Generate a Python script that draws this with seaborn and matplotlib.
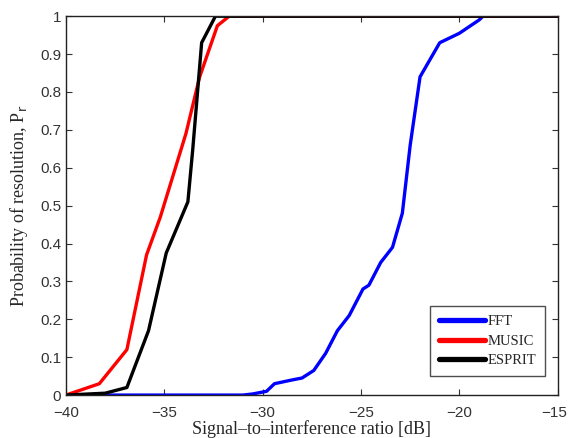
import numpy as np
import pandas as pd
import matplotlib
matplotlib.use("Agg")
import matplotlib.pyplot as plt
import matplotlib.transforms as mtransforms
import seaborn as sns

# values
fft_x = [-40, -31, -30.5, -29.8, -29.4, -28.5, -28.0, -27.4, -26.8, -26.2, -25.6, -24.9, -24.6, -24.0,
         -23.4, -22.9, -22.5, -22.0, -21.0, -20.0, -19.0, -18.8, -15]
fft_y = [0, 0, 0.003, 0.01, 0.03, 0.04, 0.045, 0.065, 0.11, 0.17, 0.21, 0.28, 0.29, 0.35,
         0.39, 0.48, 0.66, 0.84, 0.93, 0.955, 0.99, 1.0, 1.0]

music_x = [-40, -38.3, -36.9, -35.9, -35.2, -33.9, -33.2, -32.3, -31.7, -15]
music_y = [0, 0.03, 0.12, 0.37, 0.47, 0.69, 0.84, 0.975, 1.0, 1.0]

esprit_x = [-40, -38.0, -36.9, -35.8, -34.9, -33.8, -33.55, -33.1, -32.4, -15]
esprit_y = [0, 0.005, 0.02, 0.17, 0.375, 0.51, 0.65, 0.93, 1.0, 1.0]

methods = ["FFT", "MUSIC", "ESPRIT"]
colors = ["#0000ff", "#ff0000", "#000000"]

df = pd.concat([
    pd.DataFrame({"snr": fft_x, "pr": fft_y, "method": "FFT"}),
    pd.DataFrame({"snr": music_x, "pr": music_y, "method": "MUSIC"}),
    pd.DataFrame({"snr": esprit_x, "pr": esprit_y, "method": "ESPRIT"}),
])

sns.set_style("ticks")
plt.rcParams["font.family"] = ["Liberation Sans", "DejaVu Sans"]

fig = plt.figure(figsize=(5.68, 4.38), dpi=100)
ax = fig.add_axes([0.116, 0.098, 0.866, 0.865])

sns.lineplot(data=df, x="snr", y="pr", hue="method", hue_order=methods,
             palette=dict(zip(methods, colors)), linewidth=2.4, sort=False,
             estimator=None, ax=ax)

ax.set_xlim(-40, -15)
ax.set_ylim(0, 1)
ax.set_xticks(np.arange(-40, -14, 5))
ax.set_xticklabels(["\u2212%d" % abs(v) for v in np.arange(-40, -14, 5)])
ax.set_yticks(np.arange(0, 1.01, 0.1))
ax.set_yticklabels(["0", "0.1", "0.2", "0.3", "0.4", "0.5", "0.6", "0.7", "0.8", "0.9", "1"])
ax.tick_params(direction="in", top=True, right=True, labelsize=11, colors="#333333", length=4)
ax.tick_params(axis="x", pad=8)
for s in ax.spines.values():
    s.set_visible(True)
    s.set_linewidth(1.0)
    s.set_color("#222222")

# last x label sits at the figure edge, nudge it left a little
last = ax.get_xticklabels()[-1]
last.set_transform(last.get_transform() + mtransforms.ScaledTranslation(-4 / 100, 0, fig.dpi_scale_trans))

ax.set_xlabel("Signal\u2013to\u2013interference ratio [dB]", family="Liberation Serif",
              fontsize=13, labelpad=0)
ax.set_ylabel("Probability of resolution, P$_\\mathrm{r}$", family="Liberation Serif",
              fontsize=13, labelpad=7)

leg = ax.legend(loc="lower right", bbox_to_anchor=(0.975, 0.05), fancybox=False,
                prop={"family": "Liberation Serif", "size": 10.5}, handlelength=3.2,
                borderpad=0.6, labelspacing=0.45, handletextpad=0.2, borderaxespad=0)
leg.get_frame().set_edgecolor("#222222")
leg.get_frame().set_linewidth(1.0)
for line in leg.get_lines():
    line.set_linewidth(3.8)

fig.savefig("out.png", dpi=100)
